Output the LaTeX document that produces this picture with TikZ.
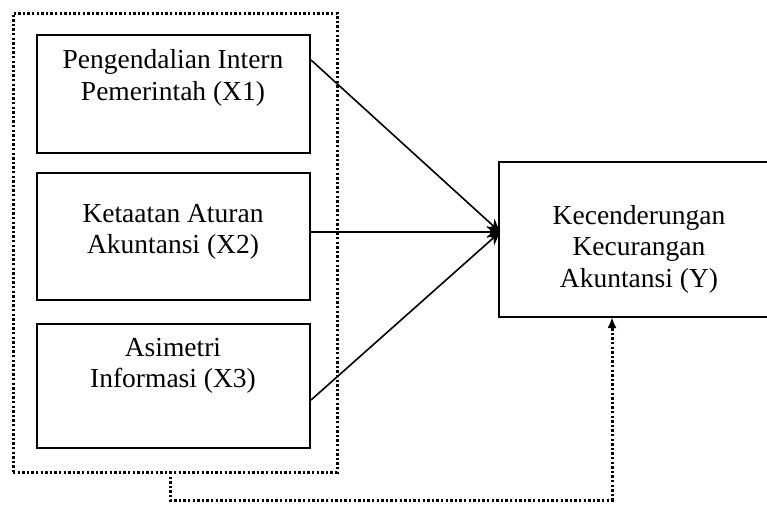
\documentclass[tikz,border=0pt]{standalone}
\usepackage{fontspec}
\setmainfont{Liberation Serif}
\usetikzlibrary{arrows.meta}
\begin{document}
\begin{tikzpicture}[x=1pt,y=-1pt,
  box/.style={draw,line width=1.6pt,outer sep=0pt,inner sep=0pt},
  lbl/.style={align=center,font=\fontsize{27.5}{31.5}\selectfont},
  dotbox/.style={draw,line width=3pt,dash pattern=on 2.4pt off 2.2pt,outer sep=0pt,inner sep=0pt},
  dotconn/.style={line width=3pt,dash pattern=on 2.4pt off 2.2pt,-{Latex[length=11pt,width=9pt]}},
  conn/.style={line width=1.6pt,-{Stealth[length=13pt,width=12pt]}}]
\useasboundingbox (0,0) rectangle (767,504);
\node[dotbox,minimum width=324pt,minimum height=459pt] (grp) at (175,242.5) {};
\node[box,minimum width=273pt,minimum height=118pt] (x1) at (173.5,94) {};
\node[box,minimum width=273pt,minimum height=127pt] (x2) at (173.5,236.5) {};
\node[box,minimum width=273pt,minimum height=124pt] (x3) at (173.5,386) {};
\node[box,minimum width=280pt,minimum height=155pt] (y) at (639,239.5) {};
\node[lbl] (t1) at (173,78) {Pengendalian Intern\\Pemerintah (X1)};
\node[lbl] (t2) at (173,232) {Ketaatan Aturan\\Akuntansi (X2)};
\node[lbl] (t3) at (173,366) {Asimetri\\Informasi (X3)};
\node[lbl] (ty) at (639,249) {Kecenderungan\\Kecurangan\\Akuntansi (Y)};
\coordinate (yin) at (500,232);
\coordinate (a1) at (311,60);
\coordinate (a3) at (311,400);
\coordinate (d1) at (170,500);
\coordinate (d2) at (612,500);
\draw[conn] (a1) -- (yin);
\draw[conn] (x2.east |- yin) -- (yin);
\draw[conn] (a3) -- (yin);
\draw[dotconn] (grp.south -| d1) -- (d1) -- (d2) -- (y.south -| d2);
\end{tikzpicture}
\end{document}
